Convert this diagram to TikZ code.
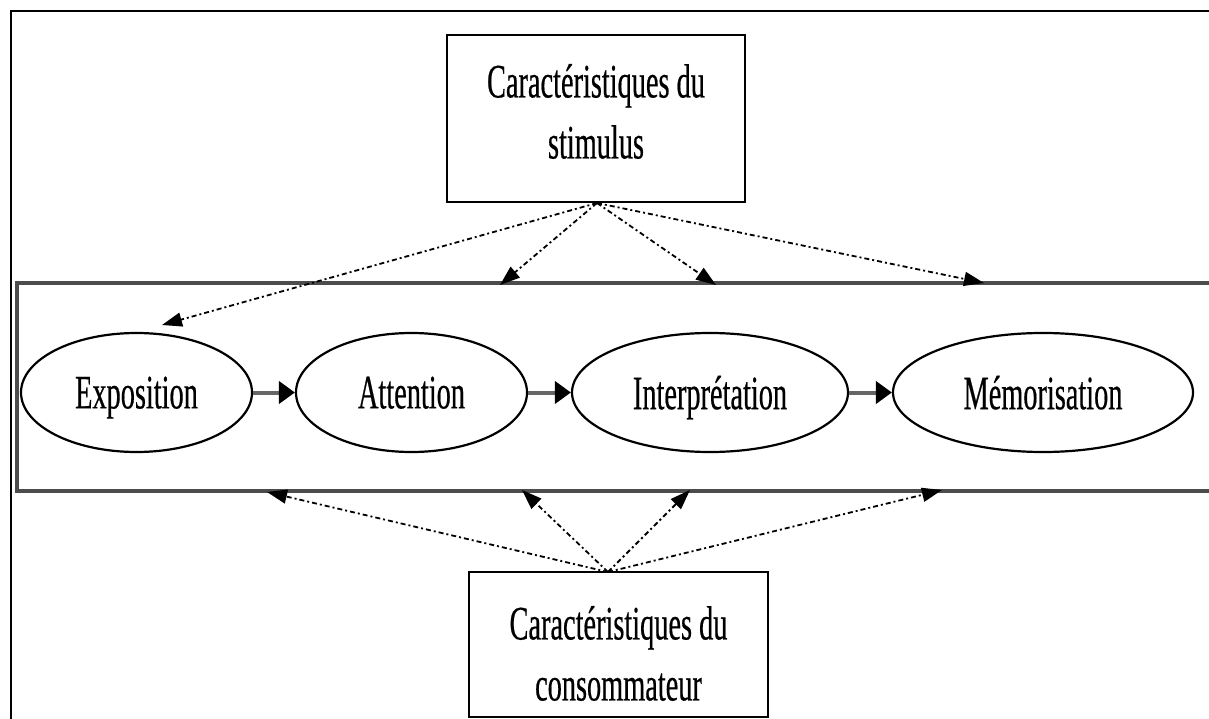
\documentclass[tikz,border=0pt]{standalone}
\usepackage{fontspec}
\setmainfont{Liberation Serif}[FakeStretch=0.59,FakeBold=0.4]
\usetikzlibrary{arrows.meta,shapes.geometric}
\begin{document}
\begin{tikzpicture}[x=1pt,y=-1pt,
  lbl/.style={font=\fontsize{48}{61}\selectfont, align=center, inner sep=0pt},
  proc/.style={draw, line width=2.2pt, ellipse, minimum height=119pt, inner sep=0pt,
    font=\fontsize{48}{61}\selectfont, text depth=0pt},
  charbox/.style={draw, line width=2.4pt, rectangle, inner sep=0pt},
  flow/.style={draw=black!60, line width=4pt, -{Triangle[length=16pt,width=22pt,color=black]}},
  infl/.style={line width=1.8pt, dash pattern=on 5pt off 3pt on 2pt off 3pt,
    -{Triangle[length=20pt,width=14pt]}},
  band/.style={draw=black!70, line width=3.5pt},
  outerframe/.style={line width=2.5pt}]
\useasboundingbox (0,0) rectangle (1209,719);
\clip (0,0) rectangle (1209,719);
% outer frame
\draw[outerframe] (11,730) -- (11,11) -- (1220,11);
% band
\draw[band] (1220,283) -- (17,283) -- (17,491) -- (1220,491);
% characteristic boxes
\node[charbox, minimum width=298pt, minimum height=167pt] (stim) at (596,118.5) {};
\node[lbl] (stimtxt) at (596,111.5) {Caractéristiques du\\stimulus};
\node[charbox, minimum width=299pt, minimum height=145pt] (cons) at (618.5,644.5) {};
\node[lbl] (constxt) at (618.5,653.5) {Caractéristiques du\\consommateur};
% process ellipses
\node[proc, minimum width=231pt] (expo) at (136.5,392.5) {Exposition};
\node[proc, minimum width=231pt] (att) at (411.5,392.5) {Attention};
\node[proc, minimum width=276pt] (interp) at (710,392.5) {Interprétation};
\node[proc, minimum width=300pt] (memo) at (1043,392.5) {Mémorisation};
\draw[flow] (expo.east) -- (att.west);
\draw[flow] (att.east) -- (interp.west);
\draw[flow] (interp.east) -- (memo.west);
% influence origins and targets
\coordinate (so) at (597,203);
\coordinate (co) at (608,572);
\coordinate (t1) at (162,325);
\coordinate (t2) at (500,285);
\coordinate (t3) at (716,285);
\coordinate (t4) at (984,283);
\coordinate (b1) at (267,492);
\coordinate (b2) at (522,490);
\coordinate (b3) at (690,490);
\coordinate (b4) at (942,490);
\foreach \t in {t1,t2,t3,t4} \draw[infl] (so) -- (\t);
\foreach \b in {b1,b2,b3,b4} \draw[infl] (co) -- (\b);
\end{tikzpicture}
\end{document}
